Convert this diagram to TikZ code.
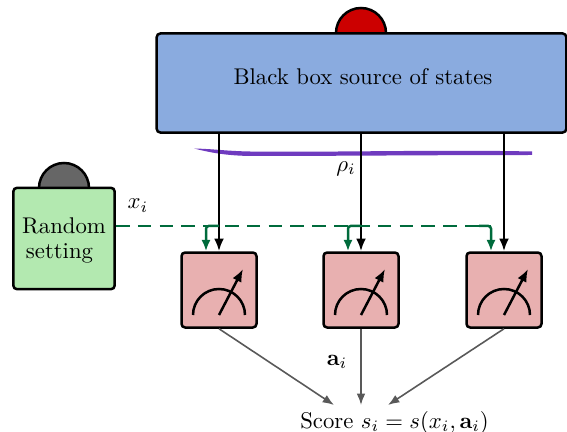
\documentclass[tikz,border=0pt]{standalone}
\usepackage{amsmath}
\usetikzlibrary{arrows.meta, calc, positioning}

\definecolor{SourceBlue}{HTML}{8AABDF}
\definecolor{SettingGreen}{HTML}{B3E9B0}
\definecolor{MeterRed}{HTML}{E8B0B0}
\definecolor{WireGreen}{HTML}{006B3C}
\definecolor{PurpleLine}{HTML}{6F3BBF}

\begin{document}
\begin{tikzpicture}
	[
	x=0.44pt, y=-0.44pt,
	BoxStyle/.style={draw=black, line width=1.1pt, rounded corners=1.6pt, inner sep=0pt, text depth=0pt},
	MeterBox/.style={BoxStyle, fill=MeterRed, minimum width=33pt, minimum height=33pt},	%Messgeraete
	Dome/.style={draw=black, line width=1.1pt},											%Halbkreise
	StateArrow/.style={-{Latex[length=5.6pt,width=4.4pt]}, line width=1.1pt},
	SettingArrow/.style={-{Latex[length=5pt,width=4pt]}, color=WireGreen, line width=1.1pt, rounded corners=1.2pt},
	ScoreArrow/.style={-{Latex[length=5pt,width=3.8pt]}, color=black!65, line width=0.7pt}
	]

	\useasboundingbox (0,0) rectangle (567,432);

	% Halbkreise hinter den Boxen
	\draw[Dome, fill=red!80!black] (336,33) arc (180:360:25);
	\draw[Dome, fill=black!60] (39,188) arc (180:360:25);

	% Boxen
	\node[BoxStyle, fill=SourceBlue, minimum width=180.2pt, minimum height=43.6pt] (source) at (361.5,83) {};
	\node (sourcetext) at (363,77) {Black box source of states};
	\node[BoxStyle, fill=SettingGreen, minimum width=44.6pt, minimum height=44.6pt, align=left] (setting) at (64,238.5) {Random\\[-1pt]\,setting};
	\node[MeterBox] (meterA) at (219,290) {};
	\node[MeterBox] (meterB) at (361,290) {};
	\node[MeterBox] (meterC) at (504,290) {};

	% Zeiger der Messgeraete
	\foreach \m in {A,B,C}{
		\begin{scope}[shift={(meter\m.center)}]
			\draw[line width=1.1pt] (-26,25) arc (180:360:26);
			\draw[-{Latex[length=5.6pt,width=4.4pt]}, line width=1.1pt] (0,25) -- (24,-21);
		\end{scope}
	}

	% Purpurlinie
	\fill[PurpleLine] (194,148.5) .. controls (215,149) and (225,151) .. (250,151.5)
		.. controls (330,152.5) and (440,149.5) .. (532,151.5) -- (532,155)
		.. controls (440,155) and (330,156) .. (250,156)
		.. controls (225,155.5) and (210,152.5) .. cycle;

	% Endpunkte
	\coordinate (turn) at (491,226);
	\coordinate (scoreA) at (334,405);
	\coordinate (scoreB) at (361,405);
	\coordinate (scoreC) at (388,405);

	% Zustaende
	\foreach \m in {A,B,C}{
		\draw[StateArrow] (source.south -| meter\m) -- (meter\m.north);
	}

	% Einstellungen
	\draw[WireGreen, line width=1.1pt, dash pattern=on 6pt off 3.6pt] (setting.east |- turn) -- (turn);
	\draw[SettingArrow] (meterA |- turn) -| ($(meterA.north)+(-13,0)$);
	\draw[SettingArrow] (meterB |- turn) -| ($(meterB.north)+(-13,0)$);
	\draw[SettingArrow] ($(turn)+(-12,0)$) -| (turn |- meterC.north);

	% Score
	\node (score) at (394.5,422.5) {Score $s_i=s(x_i,\mathbf{a}_i)$};
	\draw[ScoreArrow] (meterA.south) -- (scoreA);
	\draw[ScoreArrow] (meterB.south) -- (scoreB);
	\draw[ScoreArrow] (meterC.south) -- (scoreC);

	% Beschriftung
	\node (xlabel) at (138,205.5) {$x_i$};
	\node (rholabel) at (346,168.5) {$\rho_i$};
	\node (alabel) at (337,362) {$\mathbf{a}_i$};
\end{tikzpicture}
\end{document}
